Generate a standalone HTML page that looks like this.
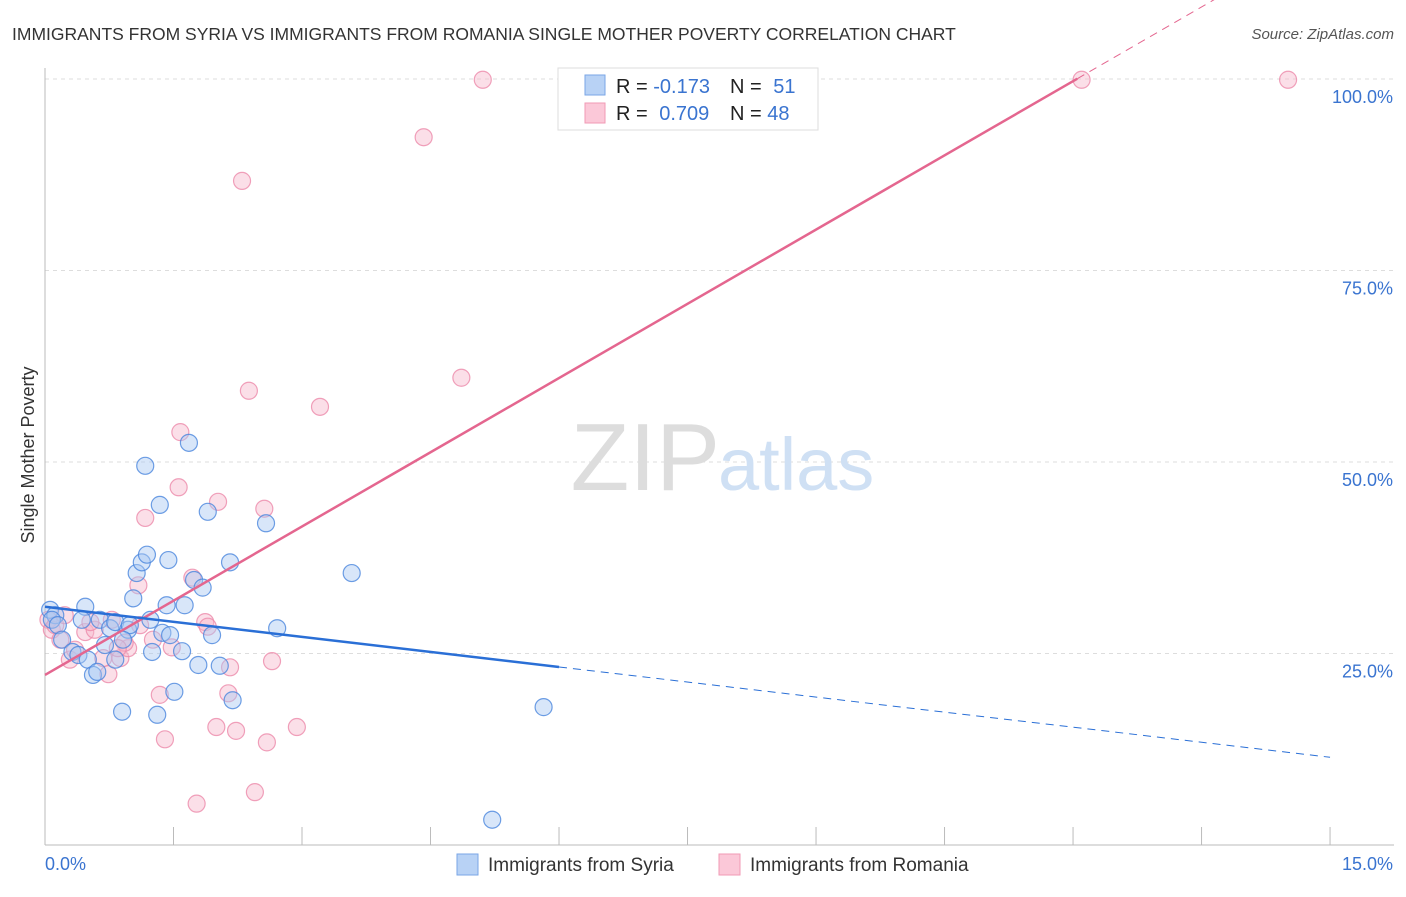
<!DOCTYPE html>
<html><head><meta charset="utf-8"><style>
body{margin:0;background:#fff;font-family:"Liberation Sans",sans-serif}
svg text{font-family:"Liberation Sans",sans-serif}
</style></head><body>
<svg id="chart" width="1406" height="892">
<text x="12" y="40" font-size="17.5" fill="#333">IMMIGRANTS FROM SYRIA VS IMMIGRANTS FROM ROMANIA SINGLE MOTHER POVERTY CORRELATION CHART</text>
<text x="1394" y="39" font-size="15" fill="#555" text-anchor="end" font-style="italic">Source: ZipAtlas.com</text>
<g id="grid"></g>
<text x="720" y="490" font-size="96" fill="#ddd" text-anchor="end" font-family="Liberation Serif">ZIP</text>
<text x="718" y="490" font-size="74" fill="#cfe0f4">atlas</text>
<g id="marks"></g>
<text transform="translate(34,455) rotate(-90)" font-size="18" fill="#333" text-anchor="middle">Single Mother Poverty</text>
<g>
<rect x="558" y="68" width="260" height="62" fill="#fff" stroke="#ddd"/>
<rect x="585" y="75" width="20" height="20" fill="#b8d2f5" stroke="#7aa6e6"/>
<rect x="585" y="103" width="20" height="20" fill="#fbc8d8" stroke="#f09ab5"/>
<text x="616" y="93" font-size="20" fill="#222">R = <tspan fill="#3a74d0">-0.173</tspan></text>
<text x="730" y="93" font-size="20" fill="#222">N = <tspan fill="#3a74d0" dx="6">51</tspan></text>
<text x="616" y="120" font-size="20" fill="#222">R = <tspan fill="#3a74d0" dx="6">0.709</tspan></text>
<text x="730" y="120" font-size="20" fill="#222">N = <tspan fill="#3a74d0">48</tspan></text>
</g>
<g>
<rect x="457" y="854" width="21" height="21" fill="#b8d2f5" stroke="#7aa6e6"/>
<text x="488" y="871" font-size="19" fill="#333">Immigrants from Syria</text>
<rect x="719" y="854" width="21" height="21" fill="#fbc8d8" stroke="#f09ab5"/>
<text x="750" y="871" font-size="19" fill="#333">Immigrants from Romania</text>
</g>
</svg>
<script>
const syriaX=[.06,.12,.08,.15,.47,.20,.32,.39,.50,.56,.61,.43,.64,.76,.82,.70,.97,.99,.91,.90,1.25,1.31,1.37,1.51,1.46,1.42,1.60,1.63,1.79,1.95,2.04,2.19,2.71,1.03,1.07,1.13,1.19,1.44,1.34,1.17,1.68,1.74,1.84,1.90,2.16,2.58,3.58,5.82,5.22,1.23,.82];
const syriaY=[30.7,30.0,29.4,28.7,31.1,26.8,25.2,24.8,24.2,22.2,22.6,29.4,29.4,28.3,29.1,26.1,28.1,28.7,26.8,17.4,25.2,17.0,27.7,20.0,27.4,31.3,25.3,31.3,23.5,27.4,23.4,18.9,28.3,32.2,35.5,36.9,37.9,37.2,44.4,49.5,52.5,34.6,33.6,43.5,36.9,42.0,35.5,18.0,3.3,29.4,24.2];
const romaniaX=[.04,.08,.12,.18,.23,.29,.35,.47,.58,.68,.74,.78,.88,.97,.93,1.09,1.17,1.26,1.34,1.40,1.48,1.58,1.56,1.72,1.77,1.87,1.90,2.02,2.14,2.16,2.23,2.00,2.30,2.38,2.45,2.56,2.59,2.65,2.94,3.21,4.42,4.86,5.11,12.10,14.51,1.11,.85,.53];
const romaniaY=[29.4,28.1,28.7,26.8,30.0,24.2,25.5,27.8,28.1,24.4,22.3,29.4,24.4,25.7,26.4,33.9,42.7,26.8,19.6,13.8,25.8,53.9,46.7,34.9,5.4,29.1,28.5,44.8,19.8,23.2,14.9,15.4,86.7,59.3,6.9,43.9,13.4,24.0,15.4,57.2,92.4,61.0,99.9,99.9,99.9,28.7,25.7,29.1];
const yTicks=[25,50,75,100];
const xTicks=[0,1.5,3,4.5,6,7.5,9,10.5,12,13.5,15];
const syriaTrend=[31.1,-1.31,6.0];   // intercept, slope, solid-until
const romaniaTrend=[22.2,6.46,12.05];
const X=v=>45+v*85.67, Y=v=>845-v*7.66;
const NS='http://www.w3.org/2000/svg';
const grid=document.getElementById('grid'), marks=document.getElementById('marks');
function mk(tag,attrs,parent){const e=document.createElementNS(NS,tag);for(const k in attrs)e.setAttribute(k,attrs[k]);parent.appendChild(e);return e;}
yTicks.forEach(t=>{
 const l=mk('line',{x1:45,x2:1394,y1:Y(t),y2:Y(t),stroke:'#ddd','stroke-dasharray':'4,4'},grid);
 
 
 const tx=mk('text',{x:1393,y:Y(t)+24,'font-size':18,fill:'#3a74d0','text-anchor':'end'},grid);
 tx.textContent=t.toFixed(1)+'%';
 
 
});
const ax=mk('line',{x1:45,x2:1394,y1:845,y2:845,stroke:'#bbb'},grid);


const ay=mk('line',{x1:45,x2:45,y1:68,y2:845,stroke:'#bbb'},grid);


xTicks.forEach(t=>{
 const l=mk('line',{x1:X(t),x2:X(t),y1:827,y2:845,stroke:'#bbb'},grid);
 
 
});
[[0,'start',45],[15,'end',1393]].forEach(([v,a,x])=>{
 const tx=mk('text',{x:x,y:870,'font-size':18,fill:'#3a74d0','text-anchor':a},grid);
 tx.textContent=v.toFixed(1)+'%';
 
 
});
function pts(xs,ys,fill,stroke,name){
 xs.forEach((x,i)=>{
  const c=mk('circle',{cx:X(x),cy:Y(ys[i]),r:8.5,fill:fill,'fill-opacity':0.45,stroke:stroke,'stroke-width':1.2,'stroke-opacity':0.8},marks);
  
  
 });
}
pts(romaniaX,romaniaY,'#f7b7cb','#ec8aaa','romania-point');
pts(syriaX,syriaY,'#a9c8f2','#4a86dd','syria-point');
function trend(t,color,name){
 const [b,m,s]=t;
 const l=mk('line',{x1:X(0),y1:Y(b),x2:X(s),y2:Y(b+m*s),stroke:color,'stroke-width':2.5},marks);
 
 
 if(s<15){
  const d=mk('line',{x1:X(s),y1:Y(b+m*s),x2:X(15),y2:Y(b+m*15),stroke:color,'stroke-width':1,'stroke-dasharray':'8,6'},marks);
  
  
 }
}
trend(romaniaTrend,'#e4668f','romania-trendline');
trend(syriaTrend,'#2a6fd6','syria-trendline');
</script>
</body></html>
